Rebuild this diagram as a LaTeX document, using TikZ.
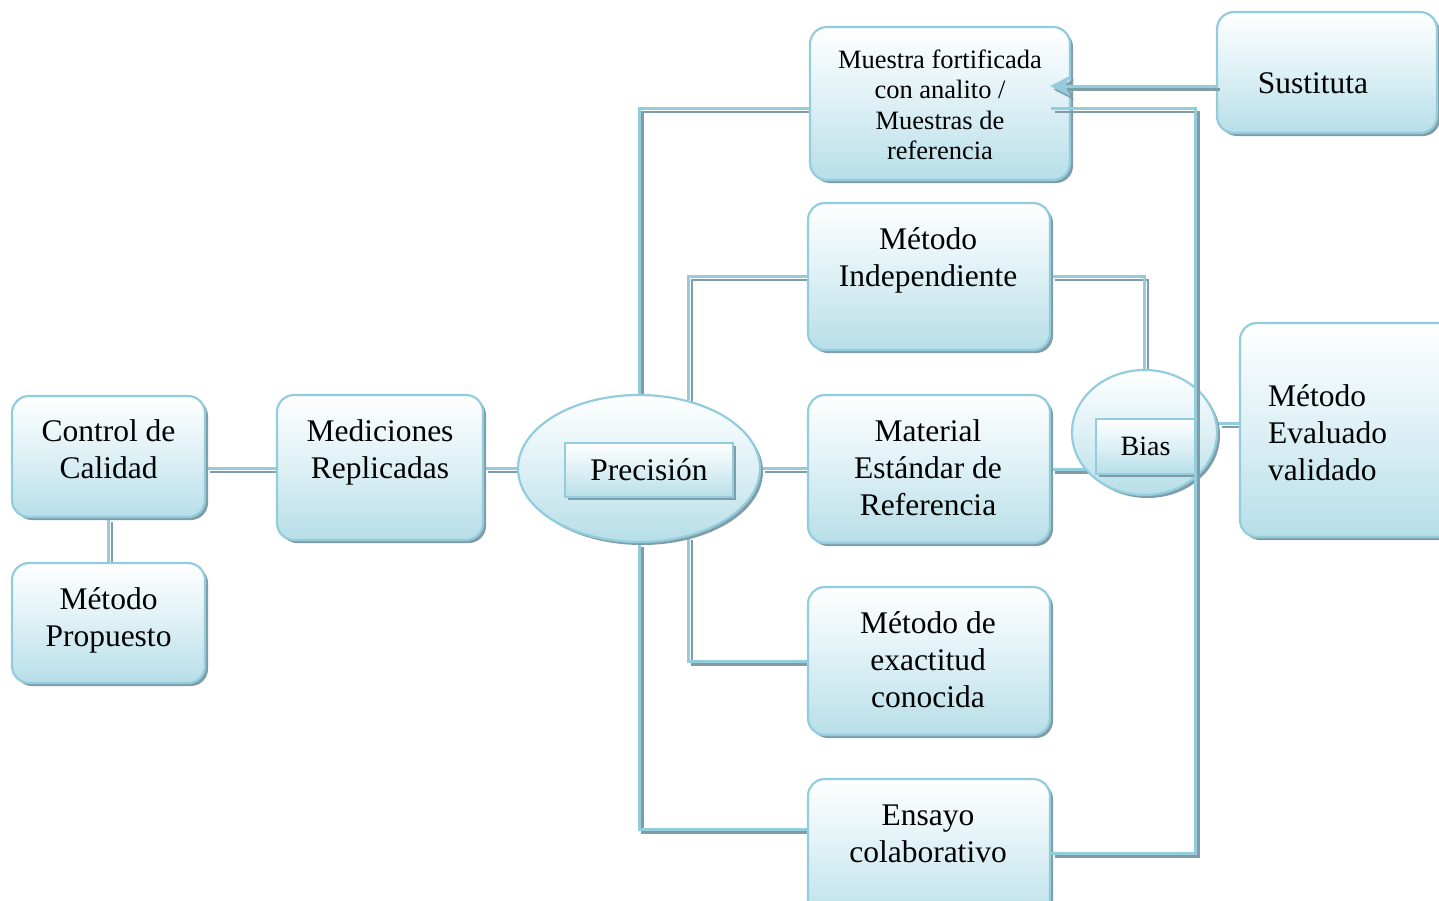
\documentclass[tikz,border=0pt]{standalone}
\usepackage{fontspec}
\setmainfont{Liberation Serif}
\usetikzlibrary{arrows.meta,shapes.geometric,shadows,backgrounds}
\definecolor{bline}{HTML}{93CDDD}
\definecolor{bfill}{HTML}{B7DEE8}
\definecolor{bmid}{HTML}{DDF0F5}
\definecolor{bshad}{HTML}{809DA7}
\newcommand\mlines[2]{\begin{tabular}[t]{@{}#1@{}}#2\end{tabular}}
\tikzset{
  shadefill/.style={draw=bline, line width=2.2pt, top color=white, bottom color=bfill, middle color=bmid,
    drop shadow={shadow xshift=3pt, shadow yshift=-3pt, fill=bshad, opacity=1}},
  boxsty/.style={shadefill, rounded corners=17pt, inner sep=0pt},
  rectsty/.style={shadefill, rectangle, inner sep=0pt, line width=2pt},
  ellsty/.style={shadefill, ellipse, inner sep=0pt},
  big/.style={font=\fontsize{31.5}{37}\selectfont},
  small/.style={font=\fontsize{26.5}{30.5}\selectfont},
  txt/.style={big, anchor=base, inner sep=0pt},
  conn/.style={line width=3pt, draw=bline,
    preaction={draw=bshad, line width=2.6pt, transform canvas={shift={(3.6pt,-3.6pt)}}}},
}
\begin{document}
\begin{tikzpicture}[x=1pt,y=-1pt]
\useasboundingbox (0,0) rectangle (1439,900);
\clip (0,0) rectangle (1439,900);

% boxes
\node[boxsty, minimum width=193pt, minimum height=121pt] (cc) at (108.5,456.5) {};
\node[boxsty, minimum width=193pt, minimum height=120pt] (mp) at (108.5,623) {};
\node[boxsty, minimum width=206pt, minimum height=145pt] (mr) at (380,467.5) {};
\node[ellsty, minimum width=242pt, minimum height=147pt] (pr) at (639,468.5) {};
\node[rectsty, big, minimum width=168pt, minimum height=54pt] (prr) at (649,470) {Precisión};
\node[boxsty, minimum width=260pt, minimum height=153pt] (mf) at (940,103.5) {};
\node[boxsty, minimum width=220pt, minimum height=121pt] (su) at (1327,72.5) {};
\node[boxsty, minimum width=242pt, minimum height=147pt] (mi) at (929,276.5) {};
\node[boxsty, minimum width=242pt, minimum height=148pt] (me) at (929,469) {};
\node[boxsty, minimum width=242pt, minimum height=148pt] (mx) at (929,661) {};
\node[boxsty, minimum width=242pt, minimum height=148pt] (ec) at (929,853) {};
\node[ellsty, minimum width=145pt, minimum height=125pt] (bias) at (1144.5,432.5) {};
\node[rectsty, font=\fontsize{28}{32}\selectfont, minimum width=99pt, minimum height=55pt] (biasr) at (1145.5,446.5) {Bias};
\node[boxsty, minimum width=230pt, minimum height=214pt] (ev) at (1355,430) {};

% texts
\node[txt] (cct) at (108.5,441) {\mlines{c}{Control de\\Calidad}};
\node[txt] (mpt) at (108.5,609) {\mlines{c}{Método\\Propuesto}};
\node[txt] (mrt) at (380,441) {\mlines{c}{Mediciones\\Replicadas}};
\node[txt, small] (mft) at (940,68) {\mlines{c}{Muestra fortificada\\con analito /\\Muestras de\\referencia}};
\node[txt] (sut) at (1313,93) {Sustituta};
\node[txt] (mit) at (928,249) {\mlines{c}{Método\\Independiente}};
\node[txt] (met) at (928,441) {\mlines{c}{Material\\Estándar de\\Referencia}};
\node[txt] (mxt) at (928,633) {\mlines{c}{Método de\\exactitud\\conocida}};
\node[txt] (ect) at (928,825) {\mlines{c}{Ensayo\\colaborativo}};
\node[txt, anchor=base west] (evt) at (1268,406) {\mlines{l}{Método\\Evaluado\\validado}};

\coordinate (arrowpt) at ([xshift=-21pt,yshift=17.5pt]mf.east);

% connectors behind the shapes
\begin{scope}[on background layer]
\draw[conn] (cc.east |- pr) -- (mr.west |- pr);
\draw[conn] (cc.south) -- (mp.north);
\draw[conn] (mr.east |- pr) -- (pr.west);
\draw[conn] (pr.east) -- (me.west |- pr);
\draw[conn] (pr.north) |- ([yshift=-5pt]mf.west);
\draw[conn] (pr.54) |- (mi.west);
\draw[conn] (pr.-54) |- (mx.west);
\draw[conn] (pr.south) |- ([yshift=24pt]ec.west);
\draw[conn] (mi.east) -| (bias.north);
\draw[conn] (me.east) -- (me.east -| bias);
\draw[conn] ([yshift=9pt]bias.east) -- ([yshift=9pt]bias.east -| ev.west);
\end{scope}

% connectors in front
\draw[conn] (ec.east) -| ([xshift=124pt,yshift=-5pt]mf.east) -- ([xshift=-20pt,yshift=-5pt]mf.east);
\draw[conn, -{Stealth[length=20pt,width=20pt,inset=5pt]}] (su.west |- arrowpt) -- (arrowpt);
\end{tikzpicture}
\end{document}
